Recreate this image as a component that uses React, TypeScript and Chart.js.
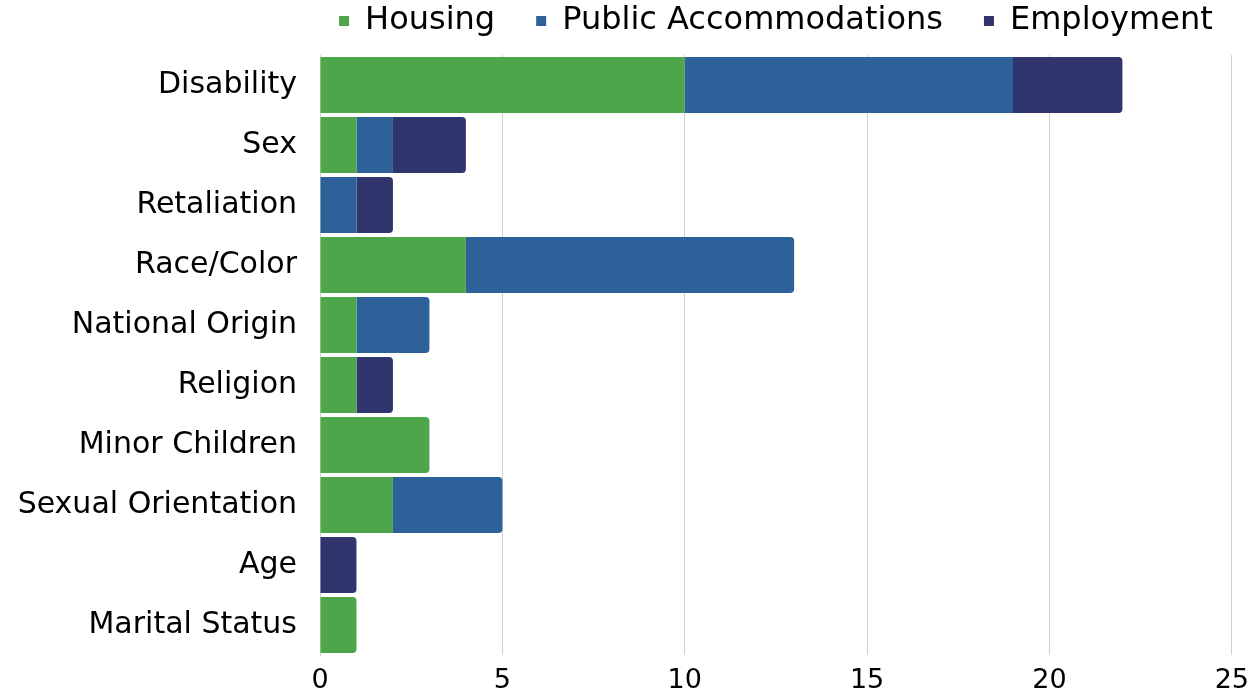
import React, { useEffect, useRef } from "react";
import { Chart, registerables } from "chart.js";

Chart.register(...registerables);

const categories = [
  "Disability",
  "Sex",
  "Retaliation",
  "Race/Color",
  "National Origin",
  "Religion",
  "Minor Children",
  "Sexual Orientation",
  "Age",
  "Marital Status",
];
const housing = [10, 1, 0, 4, 1, 1, 3, 2, 0, 1];
const publicAccommodations = [9, 1, 1, 9, 2, 0, 0, 3, 0, 0];
const employment = [3, 2, 1, 0, 0, 1, 0, 0, 1, 0];
const xTicks = [0, 5, 10, 15, 20, 25];

const FONT = "'DejaVu Sans', sans-serif";

const legendLayoutPlugin = {
  id: "legendLayout",
  beforeUpdate(chart: any) {
    const legend = chart.legend;
    if (legend && !legend.__patched) {
      const fit = legend.fit;
      legend.fit = function () {
        this.maxWidth = 2000;
        fit.call(this);
        this.height = 91;
      };
      const draw = legend.draw;
      legend.draw = function () {
        const l = this.left;
        const r = this.right;
        this.left = l - 1000;
        this.right = r + 1000;
        draw.call(this);
        this.left = l;
        this.right = r;
      };
      legend.__patched = true;
    }
  },
};

export default function App() {
  const ref = useRef<HTMLCanvasElement | null>(null);
  useEffect(() => {
    if (!ref.current) return;
    const chart = new Chart(ref.current, {
      type: "bar",
      data: {
        labels: categories,
        datasets: [
          { label: "Housing", data: housing, backgroundColor: "#4EA64A" },
          { label: "Public Accommodations", data: publicAccommodations, backgroundColor: "#2E6099" },
          { label: "Employment", data: employment, backgroundColor: "#31356E" },
        ],
      },
      plugins: [legendLayoutPlugin],
      options: {
        indexAxis: "y",
        responsive: false,
        animation: false,
        maintainAspectRatio: false,
        layout: { padding: { left: 0, right: 22, top: -36, bottom: 0 } },
        datasets: {
          bar: {
            barPercentage: 0.93,
            categoryPercentage: 1,
            borderRadius: 4,
            borderSkipped: "start",
          },
        },
        plugins: {
          legend: {
            position: "top",
            align: "center",
            fullSize: false,
            labels: {
              color: "#000",
              font: { family: FONT, size: 32 },
              boxWidth: 10,
              boxHeight: 10,
              padding: 41,
            },
          },
          tooltip: { enabled: false },
        },
        scales: {
          x: {
            stacked: true,
            min: 0,
            max: 25,
            afterBuildTicks: (axis: any) => {
              axis.ticks = xTicks.map((v) => ({ value: v }));
            },
            afterFit: (axis: any) => {
              axis.height = 43;
            },
            grid: { color: "#D0D0D0", drawTicks: false },
            border: { display: false },
            ticks: { color: "#000", font: { family: FONT, size: 27 }, padding: 10 },
          },
          y: {
            stacked: true,
            afterFit: (axis: any) => {
              axis.width = 320;
            },
            grid: { display: false, drawTicks: false },
            border: { display: true, color: "#D0D0D0" },
            ticks: { color: "#000", font: { family: FONT, size: 30 }, padding: 23 },
          },
        },
      },
    });
    return () => chart.destroy();
  }, []);
  return (
    <div style={{ position: "fixed", left: 0, top: 0, width: 1259, height: 698, background: "#fff" }}>
      <canvas ref={ref} width={1259} height={698} />
    </div>
  );
}
